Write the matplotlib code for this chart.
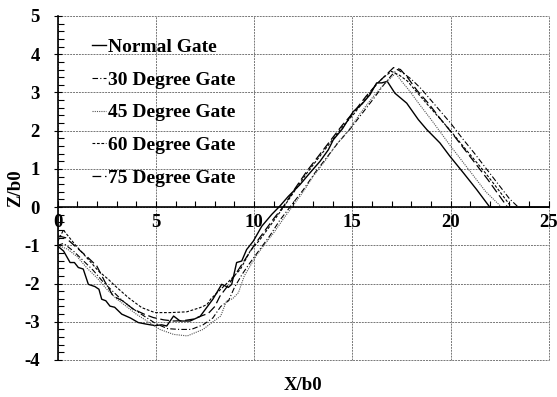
import matplotlib
matplotlib.use('Agg')
from matplotlib import pyplot as plt
from matplotlib.ticker import MultipleLocator

# curves (X/b0, Z/b0)
normal_x = [0, 0.3, 0.63, 0.85, 1.05, 1.3, 1.56, 1.9, 2.1, 2.24, 2.45, 2.66, 2.9, 3.26, 3.7, 4.1, 4.5,
            4.95, 5.3, 5.55, 5.9, 6.23, 6.74, 7.25, 7.9, 8.35, 8.69, 8.86, 9.11, 9.37, 9.62, 9.96, 10.39,
            10.9, 11.3, 11.74, 12.34, 12.85, 13.36, 13.78, 14.03, 14.5, 15.05, 15.5, 15.9, 16.24, 16.5,
            16.78, 17.17, 17.77, 18.36, 18.79, 19.46, 19.97, 20.65, 21.33, 22.0, 25.0]
normal_z = [-1.02, -1.15, -1.45, -1.45, -1.58, -1.62, -2.02, -2.08, -2.15, -2.41, -2.45, -2.59, -2.62,
            -2.8, -2.9, -3.02, -3.06, -3.1, -3.08, -3.11, -2.85, -2.98, -2.98, -2.86, -2.41, -2.02, -2.1,
            -2.02, -1.45, -1.41, -1.11, -0.89, -0.5, -0.19, 0.02, 0.28, 0.59, 0.9, 1.2, 1.5, 1.76, 2.05,
            2.5, 2.7, 2.94, 3.25, 3.25, 3.29, 2.98, 2.72, 2.29, 2.03, 1.68, 1.33, 0.9, 0.46, 0.0, 0.0]

deg30_x = [0, 0.3, 0.8, 1.3, 1.8, 2.3, 2.8, 3.3, 3.8, 4.4, 5.0, 5.6, 6.2, 6.8, 7.4, 7.9, 8.3, 8.7, 9.0,
           9.4, 9.8, 10.3, 10.8, 11.3, 11.9, 12.5, 13.1, 13.7, 14.3, 14.9, 15.5, 16.1, 16.6, 17.0, 17.3,
           17.6, 18.0, 18.5, 19.0, 19.5, 20.0, 20.6, 21.2, 21.8, 22.4, 23.0, 23.45]
deg30_z = [-1.0, -0.95, -1.15, -1.4, -1.65, -1.95, -2.2, -2.45, -2.65, -2.85, -3.05, -3.18, -3.2, -3.2,
           -3.08, -2.9, -2.6, -2.45, -2.1, -1.75, -1.45, -1.1, -0.75, -0.35, 0.05, 0.45, 0.9, 1.3, 1.7,
           2.05, 2.45, 2.85, 3.2, 3.45, 3.6, 3.5, 3.35, 3.1, 2.8, 2.5, 2.2, 1.8, 1.42, 1.02, 0.62, 0.22, 0.0]

deg45_x = [0, 0.5, 1.0, 1.5, 2.0, 2.5, 3.0, 3.5, 4.0, 4.6, 5.2, 5.9, 6.6, 7.4, 7.9, 8.3, 8.6, 8.9, 9.2,
           9.5, 10.1, 10.5, 11.0, 11.5, 12.0, 12.5, 13.0, 13.6, 14.2, 14.8, 15.4, 16.0, 16.5, 16.9, 17.2,
           17.5, 17.9, 18.4, 19.0, 19.5, 20.0, 20.6, 21.2, 21.8, 22.6]
deg45_z = [-1.0, -1.1, -1.3, -1.6, -1.85, -2.15, -2.4, -2.6, -2.8, -3.0, -3.2, -3.33, -3.37, -3.2, -3.0,
           -2.85, -2.45, -2.4, -2.24, -1.8, -1.28, -1.0, -0.67, -0.3, 0.05, 0.4, 0.8, 1.2, 1.65, 2.0, 2.45,
           2.85, 3.15, 3.35, 3.5, 3.3, 3.05, 2.7, 2.3, 1.95, 1.6, 1.2, 0.8, 0.4, 0.0]

deg60_x = [0, 0.29, 0.88, 1.56, 2.07, 2.58, 2.92, 3.6, 4.28, 4.95, 5.72, 6.57, 7.25, 7.6, 7.8, 8.2, 8.7,
           9.3, 9.8, 10.3, 10.8, 11.5, 12.1, 12.7, 13.3, 13.9, 14.5, 15.1, 15.7, 16.2, 16.6, 17.0, 17.4,
           17.8, 18.3, 18.8, 19.4, 20.0, 20.6, 21.2, 21.8, 22.4, 23.1]
deg60_z = [-0.9, -0.6, -0.98, -1.37, -1.67, -1.89, -2.06, -2.37, -2.63, -2.76, -2.76, -2.74, -2.63, -2.55,
           -2.4, -2.2, -1.95, -1.63, -1.15, -0.85, -0.5, 0.0, 0.45, 0.9, 1.3, 1.7, 2.1, 2.45, 2.85, 3.2,
           3.4, 3.55, 3.45, 3.3, 3.0, 2.7, 2.35, 2.0, 1.62, 1.25, 0.88, 0.48, 0.0]

deg75_x = [0, 0.4, 0.97, 1.5, 1.99, 2.4, 2.83, 3.3, 3.85, 4.4, 4.87, 5.4, 5.89, 6.4, 6.9, 7.3, 7.67, 8.0,
           8.26, 8.6, 9.0, 9.5, 10.0, 10.5, 11.0, 11.5, 12.1, 12.7, 13.3, 13.9, 14.5, 15.1, 15.7, 16.3,
           16.8, 17.1, 17.45, 17.8, 18.3, 18.9, 19.5, 20.1, 20.7, 21.3, 21.9, 22.4, 22.9]
deg75_z = [-0.75, -0.8, -1.06, -1.3, -1.54, -1.95, -2.33, -2.45, -2.67, -2.8, -2.89, -2.95, -2.98, -2.97,
           -2.93, -2.85, -2.78, -2.6, -2.33, -2.1, -1.8, -1.4, -1.0, -0.65, -0.3, 0.02, 0.5, 0.95, 1.35,
           1.75, 2.15, 2.5, 2.9, 3.25, 3.5, 3.65, 3.6, 3.4, 3.05, 2.7, 2.3, 1.92, 1.52, 1.12, 0.72, 0.36, 0.0]

plt.rcParams['font.family'] = 'Liberation Serif'
plt.rcParams['font.weight'] = 'bold'
plt.rcParams['axes.unicode_minus'] = False

fig = plt.figure(figsize=(5.57, 3.97), dpi=100)
ax = fig.add_axes([0.1036, 0.0932, 0.8815, 0.8665])

ax.plot(normal_x, normal_z, color='black', lw=1.0, label='Normal Gate')
ax.plot(deg30_x, deg30_z, color='black', lw=0.8, ls=(0, (5, 2, 1, 2)), label='30 Degree Gate')
ax.plot(deg45_x, deg45_z, color='#555555', lw=0.8, ls=(0, (1, 1)), label='45 Degree Gate')
ax.plot(deg60_x, deg60_z, color='black', lw=0.8, ls=(0, (2.5, 1.5)), label='60 Degree Gate')
ax.plot(deg75_x, deg75_z, color='black', lw=0.9, ls=(0, (7, 3)), label='75 Degree Gate')

ax.set_xlim(0, 25)
ax.set_ylim(-4, 5)
ax.xaxis.set_major_locator(MultipleLocator(5))
ax.xaxis.set_minor_locator(MultipleLocator(1))
ax.yaxis.set_major_locator(MultipleLocator(1))
ax.yaxis.set_minor_locator(MultipleLocator(0.2))

ax.spines['bottom'].set_position(('data', 0))
ax.spines['top'].set_visible(False)
ax.spines['right'].set_visible(False)
ax.spines['bottom'].set_linewidth(1.2)
ax.spines['left'].set_linewidth(1.2)

ax.tick_params(axis='x', which='both', direction='in', length=4, width=0.8, labelsize=13.5, pad=5)
ax.tick_params(axis='y', which='major', direction='inout', length=6, width=0.8, labelsize=13.5, pad=10)
ax.tick_params(axis='y', which='minor', direction='in', length=4, width=0.8)

ax.grid(True, which='major', color='#777777', lw=0.7, ls=(0, (2, 1)))
for g in ax.get_xgridlines() + ax.get_ygridlines():
    g.set_clip_on(False)

ax.set_xlabel('X/b0', fontsize=13.5, fontweight='bold')
ax.set_ylabel('Z/b0', fontsize=13.5, fontweight='bold')
ax.xaxis.set_label_coords(0.5, -0.05)
ax.yaxis.set_label_coords(-0.068, 0.5)

ax.legend(loc='upper left', bbox_to_anchor=(0.055, 0.958), frameon=False,
          handlelength=0.7, handletextpad=0.1, labelspacing=0.78, borderaxespad=0,
          prop={'family': 'Liberation Serif', 'weight': 'bold', 'size': 14})

fig.savefig('out.png', dpi=100)
